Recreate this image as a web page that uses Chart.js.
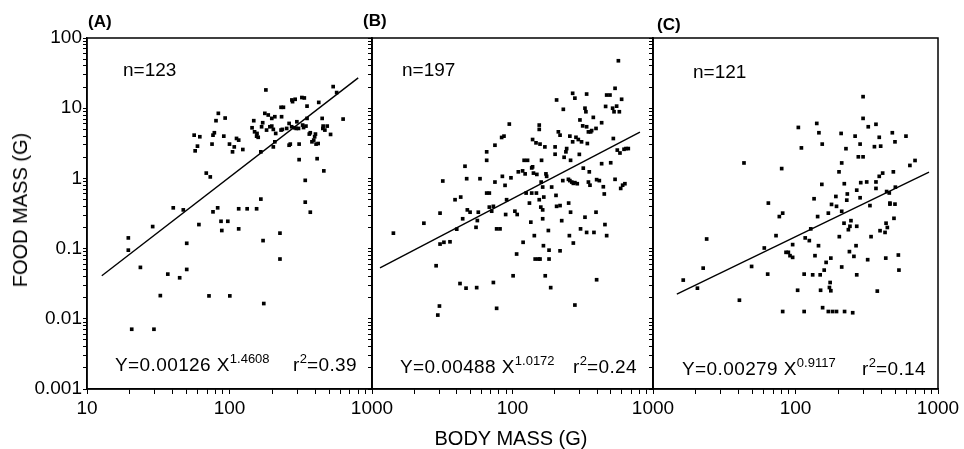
<!DOCTYPE html>
<html><head><meta charset="utf-8">
<script src="https://cdn.jsdelivr.net/npm/chart.js@4.4.0/dist/chart.umd.min.js"></script>
<style>
body{margin:0;background:#fff;width:964px;height:449px;overflow:hidden;position:relative;font-family:"Liberation Sans",Arial,sans-serif;color:#000}
canvas{position:absolute;left:0;top:0}
.t{position:absolute;white-space:nowrap;line-height:1;font-size:19px}
.e{letter-spacing:0.4px}
.t sup{font-size:13px;vertical-align:8px;line-height:0;letter-spacing:0}
.p{font-weight:bold;font-size:17px}
</style></head><body>
<canvas id="cA" width="964" height="449"></canvas>
<canvas id="cB" width="964" height="449"></canvas>
<canvas id="cC" width="964" height="449"></canvas>

<div class="t p" style="left:88px;top:13px">(A)</div>
<div class="t p" style="left:363px;top:12px">(B)</div>
<div class="t p" style="left:657px;top:16px">(C)</div>

<div class="t" style="left:123px;top:60px">n=123</div>
<div class="t" style="left:402px;top:60px">n=197</div>
<div class="t" style="left:693px;top:62px">n=121</div>

<div class="t e" style="left:115px;top:355px">Y=0.00126&nbsp;X<sup>1.4608</sup></div>
<div class="t e" style="left:293px;top:355px">r<sup>2</sup>=0.39</div>
<div class="t e" style="left:400px;top:357px">Y=0.00488&nbsp;X<sup>1.0172</sup></div>
<div class="t e" style="left:573px;top:357px">r<sup>2</sup>=0.24</div>
<div class="t e" style="left:682px;top:359px">Y=0.00279&nbsp;X<sup>0.9117</sup></div>
<div class="t e" style="left:862px;top:359px">r<sup>2</sup>=0.14</div>

<div class="t" style="left:20px;top:210px;font-size:20px;transform:translate(-50%,-50%) rotate(-90deg)">FOOD MASS (G)</div>
<div class="t" style="left:511px;top:438px;font-size:20px;transform:translate(-50%,-50%)">BODY MASS (G)</div>

<script>
// ---- data (body mass g, food mass g) ----
const pointsA = [
[19.5,0.142],[19.5,0.095],[20.6,0.0071],[23.7,0.054],[28.9,0.206],[29.5,0.0071],[32.7,0.0214],[36.9,0.0433],[40.3,0.381],[44.7,0.0384],[47.4,0.356],[50.1,0.119],[50.1,0.0505],
[56.5,4.13],[57.4,2.47],[59.6,2.88],[61.9,3.92],[61.0,0.22],[68.7,1.19],[73.3,1.05],[71.8,0.0212],
[75.4,3.08],[76.6,4.13],[78.3,4.47],[76.6,0.334],[80.4,6.64],[83.5,8.45],[82.6,0.381],[87.2,0.245],[88.3,0.181],[91.2,4.0],[93.2,7.24],[97.3,0.245],[100.5,0.0212],[100,3.08],[105,2.39],[108,2.81],[112,3.71],[116,3.51],[116,0.369],[116,0.191],[124,2.58],[133,0.369],
[144,5.26],[148,6.64],[150,4.61],[155,4.0],[155,0.369],[159,3.85],[166,0.507],[166,2.39],[168,5.44],[171,6.21],[172,0.13],[174,0.0165],[180,18.2],[177,8.45],[182,4.88],[187,8.0],[192,5.44],[198,7.16],[203,4.99],[203,2.81],[208,7.56],[208,3.32],[211,4.37],[226,0.166],[226,0.071],[230,10.3],[239,10.3],[235,4.99],[232,7.56],[252,5.15],[262,6.07],[262,2.97],[273,5.44],[277,12.4],[289,13.4],[286,5.26],[297,6.41],[305,5.15],[308,3.08],[308,1.85],[322,14.2],[331,5.3],[335,14],[340,0.459],[340,0.938],[344,5.56],[350,7.16],[350,10.7],[363,4.28],[369,0.33],[379,3.32],[390,3.51],[396,3.92],[401,4.28],[412,1.91],[419,3.14],[423,12.1],[447,7.16],[454,5.56],[452,5.15],[459,1.28],[512,4.23],[534,20.3],[565,16.7],[627,7.0],
[156,4.37],[198,5.56],[230,4.88],[267,3.08],[274,13.1],[294,5.15],[326,5.75],[369,4.47],[405,3.08],[467,4.88],[485,5.56]
];
const pointsB = [
[14.2,0.166],[23.4,0.23],[28.6,0.057],[29.4,0.0113],[30.2,0.0152],[30.5,0.32],[30.5,0.116],[31.9,0.918],[32.5,0.123],[35.9,0.125],[39.0,0.497],[40.1,0.189],[42.3,0.0318],[42.8,0.542],[44.2,0.266],[45.9,1.49],[46.7,0.0273],[47.2,0.99],[47.7,0.356],[49.9,0.33],[55.0,0.201],[55.6,0.0278],[57.1,0.33],[56.2,0.251],[58.7,0.99],[65.5,2.39],[65.5,1.81],[65.5,0.618],[68.4,0.618],[68.4,0.39],[71.1,0.341],[73.1,0.0329],[73.1,0.4],[75.0,2.97],[75.0,0.887],[77.1,0.191],[77.1,0.0141],[81.5,0.191],[83.7,3.83],[87.0,4.0],[84.7,1.07],[88.5,0.796],[89.4,0.306],[90.8,0.497],[94.9,5.94],[97.5,1.02],[101,0.041],[104,0.341],[107,0.0837],[108,0.306],[110,1.24],[119,0.123],[118,1.28],[121,1.81],[123,1.16],[125,0.618],[128,1.81],[132,0.445],[135,0.238],[137,0.618],[139,3.58],[139,1.46],[141,1.19],[143,0.153],[145,0.071],[147,3.21],[148,0.618],[153,0.071],[155,5.75],[155,4.99],[155,0.497],[157,3.08],[157,0.071],[159,0.39],[160,0.887],[161,1.81],[164,0.356],[164,0.266],[166,0.11],[167,0.542],[170,2.81],[171,0.041],[173,1.16],[180,0.181],[182,0.095],[182,0.071],[187,0.0278],[201,2.81],[204,0.573],[201,2.21],[206,13.1],[206,0.4],[212,4.61],[218,4.13],[218,0.41],[218,0.093],[224,0.25],[228,0.93],[230,9.64],[233,2.0],[240,2.39],[243,2.66],[250,0.97],[251,0.445],[254,0.153],[256,4.0],[259,0.33],[259,1.81],[264,0.887],[268,16.3],[268,3.32],[271,0.12],[278,0.0157],[278,13.9],[278,0.87],[283,3.85],[289,0.84],[294,3.58],[299,2.2],[302,6.8],[305,0.191],[310,3.32],[316,5.6],[319,1.4],[328,10],[328,0.28],[333,8.9],[337,15.9],[337,5.44],[337,0.17],[341,3.14],[347,0.887],[347,4.6],[352,1.24],[356,0.8],[360,4.6],[366,4.8],[376,7.4],[380,0.17],[393,0.33],[393,5.15],[397,0.036],[397,0.96],[415,0.93],[431,6.21],[431,1.62],[443,0.76],[450,0.6],[455,0.22],[468,15.4],[468,0.153],[460,10.6],[494,15.4],[500,1.67],[516,10],[522,3.7],[528,8.9],[537,19.2],[537,0.97],[551,10.7],[557,2.53],[567,47.4],[576,8.9],[582,2.3],[589,0.72],[598,13.4],[608,0.8],[622,2.6],[631,0.84],[642,2.66],[667,2.66],
[137,1.41],[149,1.14],[164,0.753],[175,1.07],[190,0.753],[256,0.93],[271,0.85]
];
const pointsC = [
[16.3,0.0356],[20.5,0.0273],[22.5,0.0527],[23.8,0.137],[40.4,0.0184],[43.5,1.66],[49.2,0.0557],[60.4,0.102],[63.8,0.0433],[64.5,0.445],[73.0,0.153],[77.0,0.286],[80.0,1.38],[81.3,0.0127],[81.3,0.32],[85.8,0.0885],[89.1,0.0885],[91.5,0.0793],[95.5,0.114],[95.5,0.075],[103.5,0.0255],[104.7,5.32],[110,2.72],[115,0.0127],[115,0.0433],[117,0.142],[125,0.13],[128,0.191],[132,0.0423],[135,0.513],[137,0.0793],[141,6.07],[143,0.286],[145,0.11],[146,4.47],[149,0.0423],[150,0.0255],[153,0.822],[154,3.08],[155,0.0144],[159,0.0494],[164,0.0636],[170,0.0127],[170,0.32],[173,0.0279],[175,0.0329],[177,0.0251],[177,0.0732],[179,0.426],[182,0.0127],[192,0.553],[194,0.0127],[194,0.4],[202,1.24],[203,0.148],[209,4.37],[211,1.66],[211,0.0547],[211,0.34],[219,0.23],[220,0.84],[221,0.0127],[226,2.65],[229,0.49],[231,0.6],[235,0.186],[239,0.0906],[241,0.208],[245,0.25],[252,0.0122],[257,0.0775],[262,4.0],[266,0.11],[269,0.68],[269,0.208],[269,0.0423],[276,2.03],[284,3.08],[287,0.87],[284,0.53],[298,14.6],[298,7.16],[298,2.03],[316,0.89],[324,5.44],[321,0.0695],[333,0.41],[339,0.148],[358,2.83],[367,5.9],[367,0.89],[367,0.72],[375,0.0248],[387,3.85],[387,1.07],[392,0.18],[396,2.88],[409,1.19],[425,0.17],[430,0.0732],[432,0.23],[436,0.65],[441,0.2],[455,0.62],[460,0.43],[460,0.445],[478,4.47],[486,1.24],[491,0.27],[499,0.43],[499,3.32],[502,0.75],[527,0.081],[532,0.0494],[596,4.0],[635,1.53],[690,1.8]
];
// fitted regression lines (end points)
const lineA = [[12.7,0.041],[800,27]];
const lineB = [[11.4,0.053],[807,4.58]];
const lineC = [[14.7,0.0225],[865,1.23]];

// ---- ticks ----
const xTickValues = [10,20,30,40,50,60,70,80,90,100,200,300,400,500,600,700,800,900,1000];
const yTickValues = [0.001,0.002,0.003,0.004,0.005,0.006,0.007,0.008,0.009,
  0.01,0.02,0.03,0.04,0.05,0.06,0.07,0.08,0.09,
  0.1,0.2,0.3,0.4,0.5,0.6,0.7,0.8,0.9,
  1,2,3,4,5,6,7,8,9,10,20,30,40,50,60,70,80,90,100];
const yTickLabels = {"0.001":"0.001","0.01":"0.01","0.1":"0.1","1":"1","10":"10","100":"100"};
const xLabelsA = ["10","100","1000"];
const xLabelsB = ["100","1000"];
const xLabelsC = ["100","1000"];

const tickFont = {family:"'Liberation Sans', Arial, sans-serif", size:19};

const boxPlugin = {
  id:'box',
  afterDraw(chart){
    const a = chart.chartArea, ctx = chart.ctx;
    ctx.save();
    ctx.strokeStyle = '#000';
    ctx.lineWidth = 1.5;
    ctx.strokeRect(a.left, a.top, a.right - a.left, a.bottom - a.top);
    ctx.restore();
  }
};

function keyOf(v){ return String(+Number(v).toPrecision(6)); }

// plot area: top 38, bottom 389 (x-axis box 60 px tall below it)
function makeChart(id, pts, line, padL, yWidth, padR, xLabels, showY){
  return new Chart(document.getElementById(id), {
    type:'scatter',
    data:{datasets:[
      {data: pts.map(p=>({x:p[0],y:p[1]})), pointStyle:'rect', pointRadius:2.6, backgroundColor:'#000', borderWidth:0},
      {data: line.map(p=>({x:p[0],y:p[1]})), showLine:true, borderColor:'#000', borderWidth:1.4, pointRadius:0, fill:false}
    ]},
    options:{
      responsive:false, animation:false, events:[],
      layout:{padding:{left:padL, right:padR, top:38, bottom:0}},
      plugins:{legend:{display:false}, tooltip:{enabled:false}},
      scales:{
        x:{type:'logarithmic', min:10, max:1000,
          afterFit(s){ s.height = 60; },
          afterBuildTicks(s){ s.ticks = xTickValues.map(v=>({value:v})); },
          ticks:{autoSkip:false, maxRotation:0, minRotation:0, padding:3, color:'#000', font:tickFont,
            callback:(v)=> xLabels.includes(keyOf(v)) ? keyOf(v) : ''},
          grid:{drawOnChartArea:false, drawTicks:true, tickLength:5, tickColor:'#000', tickWidth:1},
          border:{color:'#000', width:1.5}
        },
        y:{type:'logarithmic', min:0.001, max:100,
          afterFit(s){ s.width = yWidth; },
          afterBuildTicks(s){ s.ticks = yTickValues.map(v=>({value:v})); },
          ticks:{autoSkip:false, padding:1, color:'#000', font:tickFont,
            callback:(v)=> showY ? (yTickLabels[keyOf(v)] || '') : ''},
          grid:{drawOnChartArea:false, drawTicks:true, tickLength:4, tickColor:'#000', tickWidth:1},
          border:{color:'#000', width:1.5}
        }
      }
    },
    plugins:[boxPlugin]
  });
}

makeChart('cA', pointsA, lineA, 0, 87, 964-372, xLabelsA, true);
makeChart('cB', pointsB, lineB, 372, 0, 964-653, xLabelsB, false);
makeChart('cC', pointsC, lineC, 653, 0, 964-938, xLabelsC, false);
</script>
</body></html>
